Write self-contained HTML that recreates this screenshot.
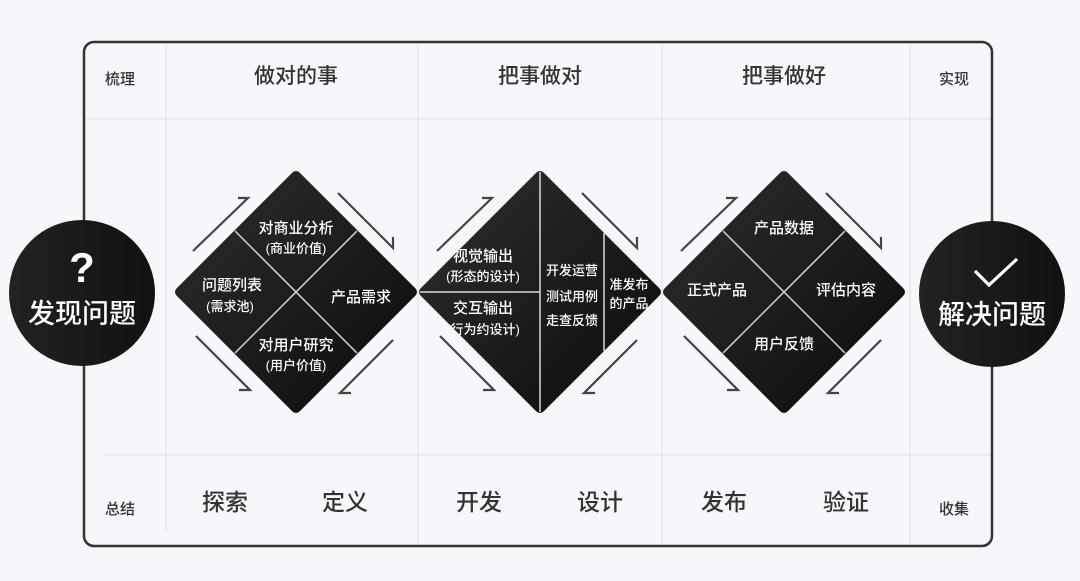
<!DOCTYPE html>
<html><head><meta charset="utf-8"><style>
html,body{margin:0;padding:0;background:#f5f7fb;}
svg{display:block;}
text{font-family:"Liberation Sans","Noto Sans CJK SC",sans-serif;}
</style></head><body>
<svg width="1080" height="581" viewBox="0 0 1080 581" xmlns="http://www.w3.org/2000/svg">
<defs>
<linearGradient id="g" x1="0" y1="0" x2="1" y2="1">
<stop offset="0" stop-color="#2e2e2e"/><stop offset="1" stop-color="#0c0c0c"/>
</linearGradient>
<linearGradient id="c" x1="0" y1="0" x2="1" y2="0">
<stop offset="0" stop-color="#222"/><stop offset="1" stop-color="#111"/>
</linearGradient>
</defs>
<rect width="1080" height="581" fill="#f5f7fb"/>
<g stroke="#e3e6ea" stroke-width="1.2">
<line x1="166" y1="43" x2="166" y2="532"/>
<line x1="418" y1="43" x2="418" y2="545"/>
<line x1="662" y1="43" x2="662" y2="545"/>
<line x1="910" y1="43" x2="910" y2="545"/>
<line x1="86" y1="119" x2="992" y2="119"/>
<line x1="104" y1="455" x2="992" y2="455"/>
</g>
<rect x="84" y="42" width="908" height="504" rx="10" fill="none" stroke="#333" stroke-width="2.5"/>

<g fill="#333" text-anchor="middle" font-weight="500">
<text x="120" y="84" font-size="15">梳理</text>
<text x="954" y="84" font-size="15">实现</text>
<text x="120" y="514" font-size="15">总结</text>
<text x="954" y="514" font-size="15">收集</text>
<text x="296" y="83" font-size="21">做对的事</text>
<text x="540" y="83" font-size="21">把事做对</text>
<text x="784" y="83" font-size="21">把事做好</text>
<text x="225" y="510" font-size="23">探索</text>
<text x="345" y="510" font-size="23">定义</text>
<text x="479" y="510" font-size="23">开发</text>
<text x="600" y="510" font-size="23">设计</text>
<text x="724" y="510" font-size="23">发布</text>
<text x="846" y="510" font-size="23">验证</text>
</g>

<g fill="url(#g)" stroke="url(#g)" stroke-width="10" stroke-linejoin="round">
<polygon points="296,176 412,292 296,408 180,292"/>
<polygon points="540,176 656,292 540,408 424,292"/>
<polygon points="784,176 900,292 784,408 668,292"/>
</g>
<g stroke="#d8d8d8" stroke-width="1.5">
<line x1="235" y1="231" x2="357" y2="353"/>
<line x1="357" y1="231" x2="235" y2="353"/>
<line x1="723" y1="231" x2="845" y2="353"/>
<line x1="845" y1="231" x2="723" y2="353"/>
<line x1="540" y1="172" x2="540" y2="412"/>
<line x1="420" y1="292" x2="540" y2="292"/>
<line x1="604" y1="233" x2="604" y2="351"/>
</g>

<g stroke="#444" stroke-width="2.2" fill="none">
<polyline points="193,251 248,198 238,198"/>
<polyline points="338,193 393,248 393,237"/>
<polyline points="393,340 340,393 351,393"/>
<polyline points="196,336 250,390 239,390"/>
<polyline points="437,251 492,198 482,198"/>
<polyline points="582,193 637,248 637,237"/>
<polyline points="637,340 584,393 595,393"/>
<polyline points="440,336 494,390 483,390"/>
<polyline points="681,251 736,198 726,198"/>
<polyline points="826,193 881,248 881,237"/>
<polyline points="881,340 828,393 839,393"/>
<polyline points="684,336 738,390 727,390"/>
</g>

<g fill="#fff" text-anchor="middle" font-weight="500">
<text x="296" y="233" font-size="15">对商业分析</text>
<text x="296" y="253" font-size="13">(商业价值)</text>
<text x="232" y="290" font-size="15">问题列表</text>
<text x="230" y="311" font-size="13">(需求池)</text>
<text x="361" y="302" font-size="15">产品需求</text>
<text x="296" y="350" font-size="15">对用户研究</text>
<text x="296" y="370" font-size="13">(用户价值)</text>

<text x="483" y="261" font-size="15">视觉输出</text>
<text x="483" y="281" font-size="13">(形态的设计)</text>
<text x="483" y="313" font-size="15">交互输出</text>
<text x="483" y="334" font-size="13">(行为约设计)</text>
<text x="572" y="275" font-size="13">开发运营</text>
<text x="572" y="301" font-size="13">测试用例</text>
<text x="572" y="325" font-size="13">走查反馈</text>
<text x="629" y="289" font-size="13">准发布</text>
<text x="629" y="308" font-size="13">的产品</text>

<text x="784" y="233" font-size="15">产品数据</text>
<text x="717" y="295" font-size="15">正式产品</text>
<text x="846" y="295" font-size="15">评估内容</text>
<text x="784" y="349" font-size="15">用户反馈</text>
</g>

<circle cx="82" cy="293" r="73" fill="url(#c)"/>
<circle cx="992" cy="294" r="73" fill="url(#c)"/>
<g fill="#fff" text-anchor="middle" font-weight="500">
<text x="82" y="282" font-size="42" font-weight="bold">?</text>
<text x="82" y="323" font-size="27">发现问题</text>
<text x="992" y="324" font-size="27">解决问题</text>
</g>
<polyline points="975,271 989,285 1017,259" fill="none" stroke="#fff" stroke-width="3.2"/>
</svg>
</body></html>
